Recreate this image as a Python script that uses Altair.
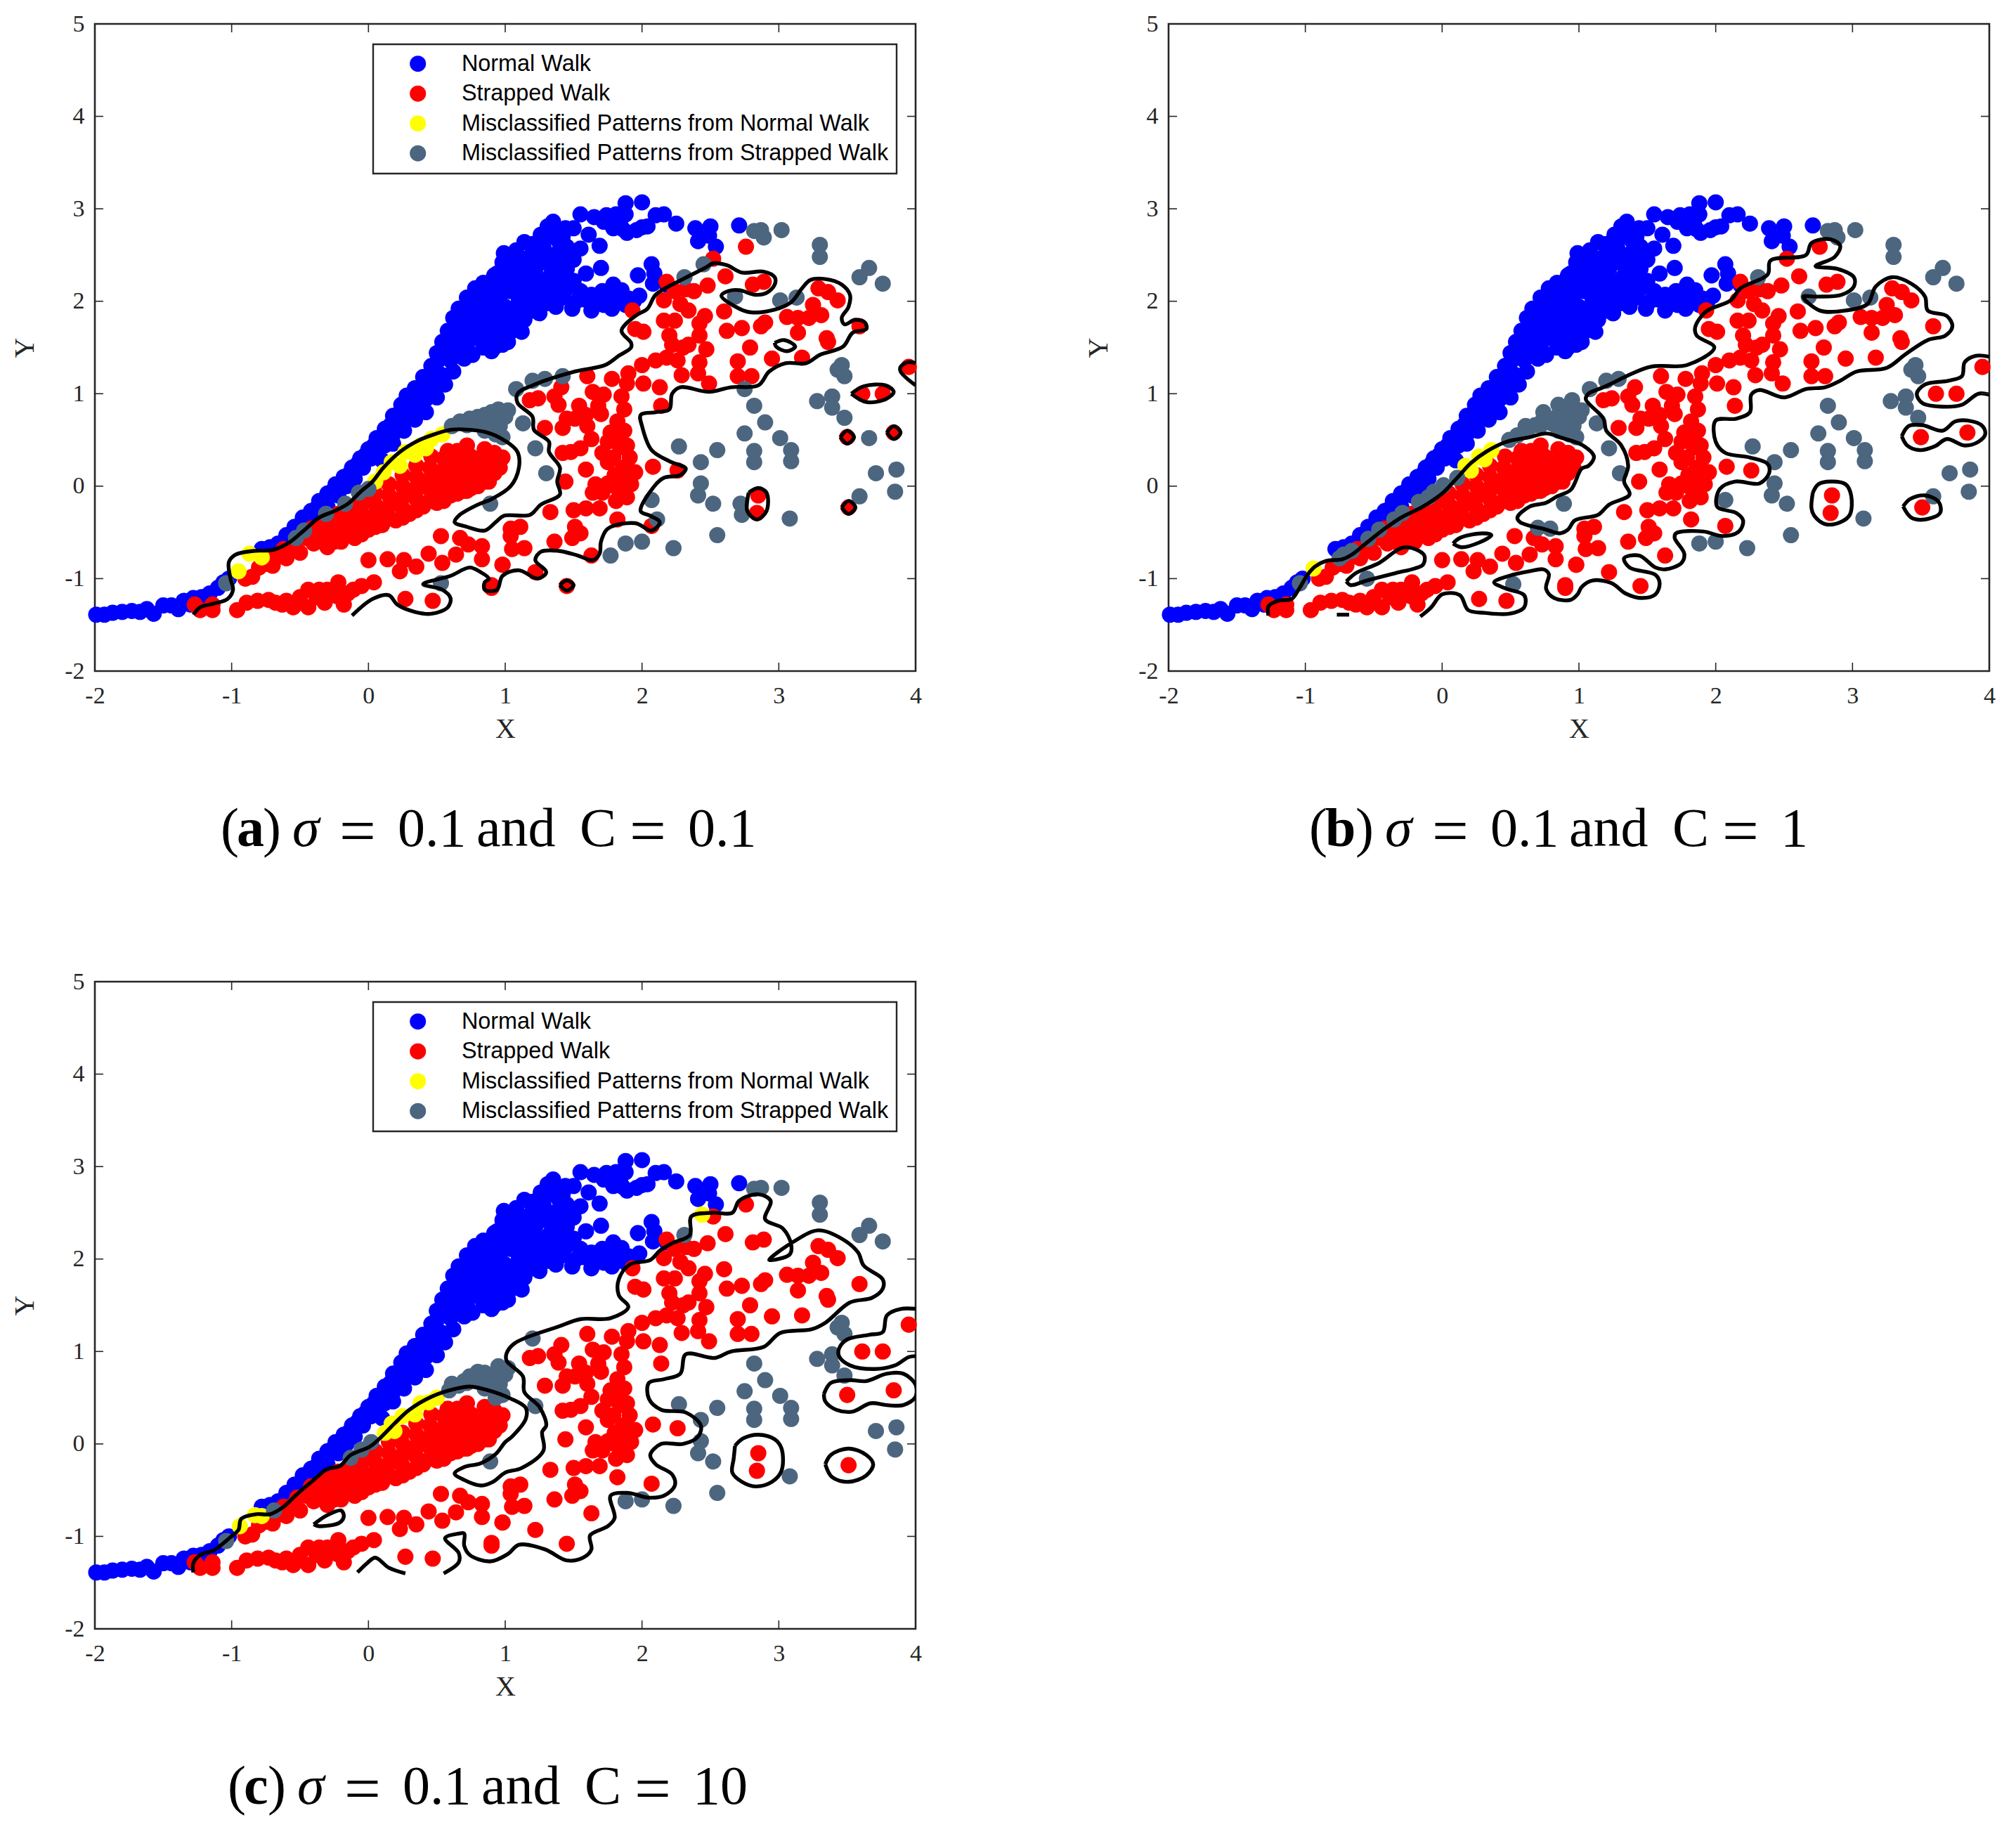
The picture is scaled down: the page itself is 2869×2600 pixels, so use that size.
import altair as alt
import pandas as pd

CLASSES = ["Normal Walk", "Strapped Walk", "Misclassified Patterns from Normal Walk", "Misclassified Patterns from Strapped Walk"]
COLORS = ["#0000ff", "#ff0000", "#ffff00", "#4d6680"]
X_TICKS = [-2, -1, 0, 1, 2, 3, 4]
Y_TICKS = [-2, -1, 0, 1, 2, 3, 4, 5]
W, H = 1168, 921

blue_tail = [(-1.99,-1.39),(-1.93,-1.39),(-1.87,-1.37),(-1.8,-1.36),(-1.73,-1.35),(-1.67,-1.36),(-1.62,-1.33),(-1.57,-1.38),(-1.5,-1.29),(-1.44,-1.29),(-1.39,-1.33),(-1.35,-1.24),(-1.28,-1.21),(-1.22,-1.2),(-1.16,-1.16),(-1.1,-1.1),(-1.06,-1.04),(-1.02,-1.0),(-1.3,-1.28),(-1.2,-1.28),(-.78,-.68),(-.72,-.66)]
blue_upper = [(-.66,-.62),(-.6,-.53),(-.54,-.44),(-.48,-.34),(-.42,-.27),(-.36,-.16),(-.3,-.08),(-.24,.02),(-.18,.1),(-.12,.2),(-.06,.3),(0,.4),(.06,.52),(.12,.62),(.18,.76),(.24,.88),(.28,.98),(.34,1.06),(.40,1.18),(.46,1.30),(.5,1.44),(.54,1.56),(.58,1.68),(.62,1.82),(.66,1.92),(.72,2.04),(.78,2.14),(.84,2.2),(.92,2.28),(.98,2.42)]
blue_center = [(-.44,-.4),(-.36,-.3),(-.3,-.22),(-.22,-.1),(-.16,0),(-.1,.08),(-.04,.2),(.02,.3),(.08,.42),(.14,.54),(.2,.66),(.26,.76),(.32,.88),(.38,1.0),(.44,1.1),(.5,1.24),(.56,1.4),(.62,1.5),(.68,1.62),(.74,1.76),(.8,1.9),(.86,2.02),(.92,2.12),(.98,2.2)]
blue_lower = [(.1,.28),(.18,.46),(.26,.6),(.34,.72),(.42,.8),(.5,.96),(.56,1.1),(.62,1.24),(.7,1.38),(.76,1.42),(.84,1.5),(.92,1.5),(.98,1.6),(.72,1.5),(.8,1.6),(.86,1.7),(.78,1.76),(.9,1.8),(.84,1.9),(.9,2.0),(.96,1.9),(.9,2.1),(.96,2.3),(.84,2.1)]
blue_fill_1 = [(-.5,-.46),(-.44,-.34),(-.38,-.24),(-.32,-.15),(-.26,-.05),(-.2,.03),(-.14,.13),(-.08,.24),(-.02,.34),(.04,.44),(.1,.54),(.16,.66),(.22,.78),(.28,.9),(.34,.98),(.4,1.08),(.46,1.2),(.5,1.34),(.54,1.46),(.6,1.62),(.66,1.76),(.7,1.86),(.76,1.98),(.82,2.1),(.88,2.2),(.94,2.3)]
blue_fill_2 = [(.06,.32),(.12,.44),(.18,.56),(.24,.68),(.3,.78),(.36,.86),(.42,.94),(.48,1.06),(.54,1.2),(.6,1.36),(.66,1.48),(.72,1.6),(.78,1.68),(.84,1.8),(.88,1.6),(.94,1.78),(.98,1.72),(.68,1.5)]
blue_fill_3 = [(1.0,1.82),(1.08,1.9),(1.06,1.76),(1.16,1.96),(1.26,2.0),(1.32,1.98),(1.42,2.04),(1.52,2.0),(1.58,2.02),(1.7,2.0),(1.72,1.96),(1.28,2.1),(1.14,2.16),(1.06,2.14),(.98,2.1),(1.02,2.22),(1.12,2.28),(1.2,2.22),(1.32,2.26),(1.5,2.22),(1.42,2.28),(1.08,2.38),(1.14,2.46),(1.04,2.46),(1.2,2.42),(1.32,2.4),(1.38,2.52),(1.28,2.58),(1.2,2.62),(1.08,2.55),(1.34,2.74),(1.24,2.64),(1.42,2.7),(1.46,2.48),(1.78,2.08),(1.85,2.12),(1.72,2.86),(1.84,2.84),(1.86,2.78),(2.0,2.8),(1.65,2.0),(1.75,2.02),(1.88,1.96),(1.94,2.0)]
blue_top = [(.9,1.46),(1.02,1.56),(1.12,1.67),(1.25,1.87),(1.37,1.94),(1.49,1.92),(1.63,1.90),(1.78,1.92),(1.85,2.01),(1.98,2.06),(1.90,2.03),(1.71,2.11),(1.79,2.18),(1.63,2.07),(1.55,2.11),(1.45,2.14),(1.35,2.11),(1.2,2.07),(1.1,2.01),(1.0,1.94),(.9,1.87),(1.02,1.73),(1.14,1.80),(.96,2.18),(1.06,2.28),(1.16,2.35),(.99,2.52),(1.14,2.64),(1.26,2.72),(1.35,2.86),(1.31,2.81),(1.44,2.79),(1.39,2.65),(1.5,2.79),(1.55,2.94),(1.65,2.91),(1.74,2.93),(1.81,2.94),(1.88,2.94),(1.88,3.06),(2.0,3.07),(1.89,2.74),(1.79,2.79),(1.96,2.77),(2.04,2.81),(2.1,2.93),(2.16,2.94),(2.25,2.84),(2.39,2.79),(2.5,2.81),(2.41,2.65),(2.49,2.71),(2.54,2.59),(2.71,2.82),(1.61,2.72),(1.69,2.6),(1.55,2.57),(1.5,2.45),(1.59,2.3),(1.7,2.36),(2.07,2.4),(1.97,2.28),(2.08,2.19),(2.18,2.18),(2.09,2.3),(1.1,2.45),(1.28,2.48),(1.22,2.35),(1.36,2.35),(1.45,2.35),(1.26,2.21),(1.39,2.21),(1.04,2.11),(1.2,1.9),(1.1,1.80),(.94,1.67),(1.04,1.67),(.98,1.53),(.9,1.6),(.96,2.0),(1.45,2.59),(1.3,2.69),(1.2,2.52),(1.02,2.35),(1.41,2.48)]
red_wedge_1 = [(-.9,-1.0),(-.8,-.88),(-.7,-.78),(-.62,-.68),(-.52,-.58),(-.42,-.46),(-.32,-.38),(-.22,-.3),(-.12,-.22),(-.02,-.14),(.05,-.08),(.15,.02),(.25,.12),(.35,.22),(.46,.32),(.58,.38),(.72,.44),(.85,.4),(.95,.3)]
red_wedge_2 = [(-.7,-.86),(-.6,-.78),(-.5,-.72),(-.4,-.62),(-.3,-.55),(-.2,-.47),(-.1,-.4),(0,-.34),(.1,-.25),(.2,-.17),(.3,-.08),(.4,0),(.5,.08),(.6,.15),(.7,.22),(.8,.25),(.9,.15)]
red_wedge_3 = [(-.3,-.66),(-.2,-.6),(-.1,-.56),(0,-.47),(.1,-.42),(.2,-.37),(.3,-.3),(.4,-.22),(.5,-.18),(.6,-.1),(.7,-.05),(.8,0),(.88,.05),(.72,-.05)]
red_wedge_4 = [(-.85,-.98),(-.75,-.84),(-.65,-.76),(-.55,-.66),(-.45,-.56),(-.35,-.46),(-.35,-.58),(-.25,-.36),(-.25,-.48),(-.25,-.6),(-.15,-.28),(-.15,-.4),(-.15,-.52),(-.05,-.2),(-.05,-.32),(-.05,-.44),(-.05,-.52),(.05,-.2),(.05,-.32),(.05,-.44),(.15,-.1),(.15,-.22),(.15,-.34),(.25,0),(.25,-.12),(.25,-.24),(.25,-.34),(.35,.1),(.35,-.02),(.35,-.14),(.35,-.26),(.45,.2),(.45,.08),(.45,-.04),(.45,-.16),(.55,.3),(.55,.18),(.55,.06),(.55,-.06),(.55,-.16),(.65,.38),(.65,.26),(.65,.14),(.65,.02),(.65,-.08),(.75,.32),(.75,.2),(.75,.08),(.75,-.02),(.85,.28),(.85,.16),(.85,.05),(.92,.36),(.92,.24),(.96,.2)]
red_strip = [(-1.27,-1.28),(-1.14,-1.34),(-1.14,-1.28),(-1.23,-1.34),(-.96,-1.34),(-.89,-1.26),(-.81,-1.24),(-.73,-1.23),(-.63,-1.28),(-.55,-1.31),(-.44,-1.31),(-.44,-1.12),(-.32,-1.26),(-.18,-1.28),(-.22,-1.04),(-.11,-1.12),(.04,-1.04),(0,-.8),(.14,-.79),(.23,-.92),(.26,-.8),(.35,-.87),(.44,-.73),(.54,-.83),(.64,-.74),(.53,-.54),(.67,-.56),(.73,-.63),(.83,-.65),(.83,-.79),(.98,-.85),(.9,-1.07),(.27,-1.22),(.47,-1.24),(-.36,-1.12),(-.23,-1.19),(-.5,-1.2),(-.38,-1.2),(-.3,-1.12),(-.15,-1.16),(-.05,-1.08),(-.68,-1.26),(-.6,-1.24)]
red_mid = [(1.18,.93),(1.24,.95),(1.39,.88),(1.41,1.07),(1.36,.97),(1.29,.63),(1.42,.63),(1.45,.73),(1.54,.87),(1.6,1.19),(1.64,1.02),(1.72,.99),(1.68,.87),(1.78,1.16),(1.85,.97),(1.87,.83),(1.7,.78),(1.59,.77),(1.51,.73),(1.6,.65),(1.63,.51),(1.55,.41),(1.48,.37),(1.42,.36),(1.59,.18),(1.44,.05),(1.71,.36),(1.77,.58),(1.87,.6),(1.75,.48),(1.89,.44),(1.91,.31),(1.75,.26),(1.86,.2),(1.95,.15),(1.79,.31),(2.08,.21),(2.26,.17),(1.92,.02),(1.66,.02),(1.75,.03),(1.64,-.07),(1.71,-.07),(1.83,-.03),(1.89,-.12),(1.81,-.16),(1.69,-.24),(1.59,-.24),(1.5,-.26),(1.51,-.44),(1.55,-.51),(1.49,-.56),(1.33,-.28),(1.82,-.36),(2.07,-.43),(1.36,-.6),(1.04,-.46),(1.11,-.44),(1.04,-.54),(1.05,-.68),(1.14,-.67),(.98,-.85),(1.22,-.93),(1.63,-.75),(1.45,-1.08),(.9,-1.1),(.9,.31),(.98,.31),(.92,.14),(1.84,.1),(1.9,.1),(1.84,.42),(1.82,.56),(1.82,.7),(1.88,.2),(1.8,.12),(1.8,0)]
red_upper = [(2.14,.87),(2.49,1.11),(2.13,1.07),(2.01,1.11),(1.9,1.22),(1.89,1.11),(2.0,1.31),(2.1,1.36),(2.18,1.39),(2.26,1.36),(2.29,1.2),(2.41,1.22),(2.42,1.34),(2.3,1.5),(2.22,1.53),(2.2,1.63),(2.42,1.63),(2.47,1.48),(2.34,1.53),(2.01,1.67),(1.95,1.7),(1.93,1.9),(2.16,1.79),(2.24,1.79),(2.18,2.21),(2.16,2.01),(2.24,2.11),(2.32,2.13),(2.38,2.11),(2.48,2.17),(2.61,2.27),(2.52,2.46),(2.76,2.59),(2.81,2.18),(2.89,2.21),(2.28,1.97),(2.34,1.9),(2.46,1.84),(2.42,1.76),(2.6,1.89),(2.62,1.68),(2.73,1.71),(2.87,1.73),(2.9,1.77),(2.79,1.5),(2.7,1.35),(2.7,1.19),(2.8,1.19),(2.95,1.38),(3.17,1.39),(3.14,1.66),(3.06,1.83),(3.14,1.82),(3.22,1.82),(3.31,1.85),(3.25,1.96),(3.29,2.14),(3.36,2.1),(3.43,2.01),(3.35,1.6),(3.36,1.56),(3.59,1.73),(3.61,1.0),(3.76,1.0),(3.95,1.29),(3.5,.53),(3.84,.58),(2.85,-.1),(2.84,-.29),(3.51,-.23)]
gray_common = [(2.82,.87),(2.90,.69),(2.75,.57),(2.82,.38),(2.82,.26),(3.01,.52),(3.09,.39),(3.09,.27),(2.27,.43),(2.55,.39),(2.43,.26),(2.43,.03),(2.41,-.10),(2.52,-.19),(3.08,-.35),(2.55,-.53),(2.23,-.67),(2.0,-.60),(1.88,-.62),(1.22,.41),(2.82,2.76),(2.87,2.77),(3.02,2.77),(3.30,2.61),(3.30,2.48),(3.66,2.36),(3.59,2.26),(3.76,2.19),(2.31,2.26),(3.46,1.31),(3.43,1.26),(3.48,1.19),(3.28,.92),(3.39,.97),(3.39,.85),(3.48,.74),(3.71,.14),(3.86,.18),(3.85,-.06),(1.02,.82),(.96,.78),(.92,.75),(.98,.53),(.89,-.19),(.61,.65),(.74,.73),(.85,.77),(.95,.83),(.93,.56),(-1.04,-1.05),(.72,.66),(.8,.68),(.88,.7),(.95,.74),(1.0,.75),(.9,.62),(.85,.6),(.96,.65)]
gray_a = [(2.75,1.05),(2.72,-.19),(2.73,-.31),(1.77,-.75),(2.11,-.36),(2.07,-.15),(1.3,.14),(1.13,.68),(3.66,.52),(3.59,-.11),(2.45,2.40),(2.68,2.05),(3.01,2.01),(3.13,2.04),(1.08,1.05),(1.2,1.14),(1.29,1.16),(1.42,1.19),(2.89,2.69),(.53,-1.05),(0,-.03),(-.07,-.07),(-.17,-.19),(-.31,-.30),(-.47,-.48),(-.53,-.56),(.67,.7),(.8,.75),(.9,.8)]
gray_b = [(2.07,-.15),(1.3,.14),(1.13,.68),(3.59,-.11),(2.68,2.05),(3.01,2.01),(3.13,2.04),(1.08,1.05),(1.2,1.14),(1.29,1.16),(2.89,2.69),(.52,-1.06),(-.55,-1.0),(.7,-.45),(.79,-.46),(.11,.09),(.01,.01),(-.06,-.06),(-.17,-.17),(-.1,-.12),(-.29,-.29),(-.35,-.36),(-.46,-.47),(-.54,-.57),(-.72,-.74),(-.75,-.78),(-.66,-.7),(.49,.5),(.55,.55),(.62,.6),(.68,.66),(.74,.8),(.85,.88),(.95,.93)]
gray_c = [(1.2,1.14),(.02,.02),(-.05,-.06),(-.13,-.15),(-.69,-.72),(.59,.58),(.66,.63),(.7,.68),(.8,.78),(.82,.7),(.95,.84),(.93,.5)]
yellow_a = [(-.87,-.73),(-.78,-.77),(-.95,-.92),(.05,.05),(.11,.15),(.17,.26),(.27,.37),(.38,.44),(.54,.56),(.46,.51),(.34,.34),(.23,.22),(.42,.41)]
yellow_b = [(-.94,-.89),(.36,.39),(.27,.32),(.17,.22),(.21,.17),(.31,.29)]
yellow_c = [(-.94,-.89),(-.83,-.77),(-.78,-.78),(.12,.12),(.17,.22),(.25,.3),(.38,.44),(.5,.5),(.34,.32),(.19,.14),(.44,.45),(2.44,2.48)]

contours_a = [
 [(-1.28,-1.39),(-1.23,-1.31),(-1.13,-1.27),(-1.03,-1.22),(-.99,-1.12),(-1.01,-.99),(-1.02,-.82),(-.97,-.74),(-.84,-.70),(-.70,-.69),(-.58,-.61),(-.48,-.49),(-.36,-.34),(-.25,-.27),(-.15,-.19),(-.05,-.05),(.03,.05),(.11,.2),(.23,.37),(.36,.49),(.48,.56),(.6,.61),(.74,.61),(.87,.58),(1.0,.49),(1.09,.37),(1.10,.2),(1.04,0),(.9,-.14),(.8,-.2),(.66,-.32),(.63,-.39),(.72,-.44),(.85,-.48),(.93,-.39),(.99,-.32),(1.18,-.31),(1.26,-.2),(1.4,-.09),(1.38,.05),(1.4,.2),(1.32,.37),(1.32,.48),(1.21,.61),(1.2,.75),(1.09,.9),(1.09,1.0),(1.2,1.09),(1.51,1.24),(1.73,1.31),(1.83,1.41),(1.92,1.5),(1.92,1.55),(1.85,1.68),(1.95,1.84),(2.04,1.92),(2.1,2.07),(2.3,2.24),(2.46,2.36),(2.52,2.41),(2.62,2.39),(2.73,2.31),(2.89,2.32),(2.97,2.26),(2.97,2.18),(2.91,2.09),(2.83,2.07),(2.71,2.12),(2.63,2.11),(2.58,2.06),(2.71,1.92),(2.8,1.88),(2.97,1.91),(3.09,1.99),(3.17,2.14),(3.23,2.23),(3.34,2.24),(3.46,2.18),(3.52,2.07),(3.51,1.94),(3.46,1.82),(3.48,1.75),(3.56,1.8),(3.63,1.77),(3.64,1.7),(3.54,1.66),(3.47,1.51),(3.30,1.42),(3.2,1.33),(3.05,1.33),(2.93,1.24),(2.85,1.09),(2.65,1.07),(2.49,1.02),(2.28,1.07),(2.22,1.0),(2.2,.83),(2.1,.8),(1.99,.77),(2.0,.65),(2.07,.39),(2.2,.27),(2.32,.19),(2.28,.12),(2.16,.09),(2.09,0),(1.99,-.27),(2.06,-.32),(2.13,-.39),(2.07,-.48),(1.95,-.4),(1.75,-.46),(1.7,-.6),(1.69,-.73),(1.64,-.8),(1.53,-.75),(1.39,-.7),(1.26,-.71),(1.22,-.8),(1.3,-.93),(1.24,-1.0),(1.1,-.91),(.98,-.97),(.94,-1.12),(.85,-1.12),(.85,-1.04),(.88,-1.0),(.82,-.93),(.74,-.88),(.6,-.97),(.4,-1.06),(.54,-1.12),(.6,-1.21),(.58,-1.31),(.46,-1.38),(.34,-1.36),(.21,-1.28),(.15,-1.18),(.03,-1.22),(-.12,-1.4)],
 [(2.97,1.55),(3.04,1.58),(3.12,1.51),(3.06,1.46),(2.98,1.51),(2.97,1.55)],
 [(3.53,1.0),(3.62,1.08),(3.78,1.09),(3.84,1.02),(3.78,.94),(3.64,.91),(3.53,1.0)],
 [(4.0,1.33),(3.94,1.34),(3.89,1.29),(3.89,1.24),(4.0,1.09)],
 [(3.45,.53),(3.5,.6),(3.55,.53),(3.5,.46),(3.45,.53)],
 [(3.79,.58),(3.84,.65),(3.89,.58),(3.84,.51),(3.79,.58)],
 [(3.46,-.23),(3.51,-.16),(3.56,-.23),(3.51,-.3),(3.46,-.23)],
 [(1.4,-1.07),(1.45,-1.02),(1.5,-1.07),(1.45,-1.13),(1.4,-1.07)],
 [(2.78,-.07),(2.85,-.02),(2.91,-.07),(2.91,-.27),(2.84,-.36),(2.77,-.27),(2.78,-.07)],
]
contours_b = [
 [(-1.27,-1.40),(-1.27,-1.30),(-1.20,-1.24),(-1.10,-1.22),(-1.05,-1.12),(-.98,-.95),(-.93,-.87),(-.85,-.81),(-.73,-.79),(-.66,-.74),(-.55,-.61),(-.42,-.46),(-.30,-.34),(-.14,-.22),(0,-.08),(.11,.09),(.21,.25),(.33,.38),(.47,.48),(.64,.53),(.76,.57),(.88,.52),(1.03,.44),(1.11,.32),(1.07,.22),(1.02,.19),(.94,-.04),(.84,-.11),(.76,-.18),(.64,-.22),(.55,-.34),(.57,-.39),(.76,-.47),(.86,-.51),(.92,-.47),(.97,-.37),(1.14,-.31),(1.22,-.2),(1.37,-.09),(1.33,.05),(1.36,.22),(1.31,.44),(1.2,.6),(1.18,.73),(1.05,.94),(1.07,1.0),(1.18,1.07),(1.52,1.29),(1.79,1.31),(1.99,1.5),(1.86,1.63),(1.85,1.72),(1.93,1.89),(2.11,2.01),(2.18,2.14),(2.38,2.29),(2.4,2.44),(2.66,2.5),(2.7,2.63),(2.84,2.67),(2.91,2.6),(2.87,2.48),(2.73,2.38),(2.89,2.35),(3.01,2.26),(3.01,2.16),(2.92,2.07),(2.74,2.05),(2.64,2.05),(2.76,1.9),(2.95,1.9),(3.11,1.97),(3.17,2.16),(3.29,2.26),(3.43,2.19),(3.53,2.05),(3.55,1.9),(3.69,1.84),(3.73,1.73),(3.68,1.63),(3.55,1.58),(3.39,1.43),(3.25,1.28),(3.03,1.24),(2.91,1.14),(2.8,1.07),(2.66,1.05),(2.5,.96),(2.32,1.04),(2.26,.99),(2.25,.8),(2.15,.73),(2.0,.71),(2.0,.48),(2.07,.36),(2.25,.31),(2.38,.24),(2.39,.14),(2.32,.03),(2.14,.05),(2.03,-.03),(2.01,-.22),(2.15,-.29),(2.2,-.37),(2.17,-.49),(2.05,-.54),(1.91,-.49),(1.71,-.51),(1.7,-.56),(1.77,-.73),(1.75,-.83),(1.63,-.9),(1.56,-.88),(1.44,-.75),(1.33,-.78),(1.37,-.88),(1.56,-.96),(1.59,-1.05),(1.56,-1.17),(1.46,-1.21),(1.34,-1.16),(1.24,-1.05),(1.1,-1.02),(1.02,-1.09),(.99,-1.17),(.94,-1.23),(.82,-1.21),(.76,-1.11),(.78,-.95),(.74,-.9),(.64,-.92),(.49,-.97),(.38,-1.04),(.47,-1.11),(.6,-1.18),(.6,-1.31),(.49,-1.38),(.31,-1.37),(.19,-1.34),(.13,-1.18),(0,-1.17),(-.08,-1.31),(-.16,-1.41)],
 [(-.77,-1.39),(-.68,-1.39)],
 [(.08,-.62),(.13,-.56),(.3,-.51),(.36,-.53),(.27,-.61),(.14,-.66),(.08,-.62)],
 [(-.70,-1.03),(-.63,-.94),(-.46,-.83),(-.30,-.67),(-.22,-.67),(-.13,-.75),(-.14,-.85),(-.20,-.89),(-.34,-.94),(-.55,-1.02),(-.67,-1.07),(-.70,-1.03)],
 [(4.0,1.40),(3.9,1.41),(3.82,1.34),(3.8,1.19),(3.7,1.14),(3.53,1.10),(3.47,1.0),(3.51,.9),(3.66,.86),(3.8,.88),(3.92,1.0),(4.0,.99)],
 [(3.36,.54),(3.41,.65),(3.51,.66),(3.66,.6),(3.75,.7),(3.84,.71),(3.95,.65),(3.97,.56),(3.92,.48),(3.82,.44),(3.69,.51),(3.6,.43),(3.49,.39),(3.4,.44),(3.36,.54)],
 [(2.71,-.07),(2.75,.02),(2.84,.05),(2.95,.02),(2.99,-.1),(2.98,-.31),(2.91,-.39),(2.8,-.41),(2.72,-.32),(2.7,-.24),(2.71,-.07)],
 [(3.37,-.22),(3.42,-.14),(3.53,-.1),(3.63,-.17),(3.64,-.29),(3.53,-.36),(3.43,-.34),(3.37,-.22)],
]
contours_c = [
 [(-1.28,-1.39),(-1.28,-1.29),(-1.23,-1.2),(-1.13,-1.15),(-1.01,-1.01),(-.95,-.93),(-.93,-.81),(-.82,-.76),(-.72,-.76),(-.63,-.69),(-.52,-.54),(-.4,-.39),(-.3,-.27),(-.21,-.24),(-.13,-.12),(.01,-.03),(.09,.07),(.19,.22),(.3,.37),(.46,.51),(.62,.59),(.74,.62),(.85,.59),(1.04,.49),(1.15,.39),(1.15,.27),(1.05,.08),(1.0,.02),(.93,-.11),(.82,-.21),(.7,-.25),(.63,-.32),(.7,-.39),(.82,-.45),(.91,-.41),(1.0,-.31),(1.12,-.26),(1.28,-.07),(1.27,.13),(1.3,.2),(1.25,.4),(1.14,.56),(1.13,.73),(1.01,.9),(1.01,.98),(1.07,1.09),(1.39,1.27),(1.55,1.35),(1.77,1.36),(1.9,1.48),(1.83,1.61),(1.83,1.78),(1.91,1.94),(2.06,1.99),(2.13,2.09),(2.22,2.17),(2.35,2.26),(2.36,2.46),(2.52,2.5),(2.66,2.5),(2.71,2.63),(2.85,2.7),(2.94,2.63),(2.9,2.43),(3.03,2.33),(3.09,2.16),(3.08,2.05),(2.93,1.99),(3.11,2.19),(3.29,2.31),(3.46,2.22),(3.58,2.07),(3.62,1.93),(3.76,1.78),(3.76,1.68),(3.68,1.58),(3.52,1.53),(3.34,1.31),(3.24,1.24),(3.01,1.2),(2.89,1.05),(2.65,1.0),(2.53,.93),(2.32,.97),(2.28,.76),(2.16,.7),(2.05,.66),(2.05,.49),(2.14,.37),(2.32,.34),(2.43,.2),(2.41,.08),(2.3,0),(2.14,0),(2.06,-.12),(2.1,-.22),(2.22,-.33),(2.24,-.45),(2.16,-.56),(2.04,-.58),(1.9,-.53),(1.77,-.56),(1.8,-.8),(1.75,-.89),(1.62,-.99),(1.63,-1.14),(1.57,-1.23),(1.45,-1.26),(1.29,-1.14),(1.1,-1.09),(1.02,-1.19),(.89,-1.27),(.74,-1.2),(.7,-1.1),(.7,-.97),(.66,-.97),(.56,-1.02),(.66,-1.18),(.66,-1.28),(.55,-1.4)],
 [(-.08,-1.39),(-.01,-1.29),(.05,-1.23),(.15,-1.34),(.27,-1.4)],
 [(-.4,-.87),(-.3,-.77),(-.2,-.72),(-.18,-.78),(-.21,-.85),(-.36,-.89),(-.4,-.87)],
 [(4.01,1.46),(3.89,1.46),(3.79,1.39),(3.76,1.21),(3.66,1.18),(3.5,1.13),(3.44,1.03),(3.44,.95),(3.52,.85),(3.7,.81),(3.85,.85),(3.95,.94),(4.0,.95)],
 [(3.33,.54),(3.38,.66),(3.52,.69),(3.64,.68),(3.79,.76),(3.91,.76),(4.0,.64),(4.0,.51),(3.91,.42),(3.79,.42),(3.67,.44),(3.54,.35),(3.42,.37),(3.34,.46),(3.33,.54)],
 [(2.68,-.02),(2.74,.06),(2.85,.1),(2.97,.05),(3.02,-.05),(3.02,-.29),(2.95,-.41),(2.83,-.46),(2.73,-.41),(2.66,-.31),(2.67,-.16),(2.68,-.02)],
 [(3.34,-.22),(3.38,-.12),(3.51,-.05),(3.64,-.12),(3.69,-.22),(3.64,-.34),(3.51,-.41),(3.39,-.36),(3.34,-.22)],
]
captions = {
 "a": [("(", 179, "normal", "normal"), ("a", 202, "bold", "normal"), (")", 239, "normal", "normal"), ("σ", 281, "normal", "italic"), ("=", 348, "normal", "normal"), ("0.1", 431, "normal", "normal"), ("and", 543, "normal", "normal"), ("C", 690, "normal", "normal"), ("=", 761, "normal", "normal"), ("0.1", 844, "normal", "normal")],
 "b": [("(", 200, "normal", "normal"), ("b", 223, "bold", "normal"), (")", 266, "normal", "normal"), ("σ", 308, "normal", "italic"), ("=", 375, "normal", "normal"), ("0.1", 458, "normal", "normal"), ("and", 570, "normal", "normal"), ("C", 717, "normal", "normal"), ("=", 788, "normal", "normal"), ("1", 871, "normal", "normal")],
 "c": [("(", 189, "normal", "normal"), ("c", 212, "bold", "normal"), (")", 246, "normal", "normal"), ("σ", 288, "normal", "italic"), ("=", 355, "normal", "normal"), ("0.1", 438, "normal", "normal"), ("and", 550, "normal", "normal"), ("C", 697, "normal", "normal"), ("=", 768, "normal", "normal"), ("10", 851, "normal", "normal")],
}

blue = blue_tail + blue_upper + blue_center + blue_lower + blue_fill_1 + blue_fill_2 + blue_fill_3 + blue_top
red = red_wedge_1 + red_wedge_2 + red_wedge_3 + red_wedge_4 + red_strip + red_mid + red_upper

x_scale = alt.Scale(domain=[-2, 4], nice=False)
y_scale = alt.Scale(domain=[-2, 5], nice=False)
AXIS_FONT = "Liberation Serif"
x_axis = alt.Axis(values=X_TICKS, title="X", grid=False, domain=False, ticks=False, labelFont=AXIS_FONT, labelFontSize=34, labelColor="#262626", labelPadding=18, labelExpr="'' + datum.value", titleFont=AXIS_FONT, titleFontSize=40, titleFontWeight="normal", titleColor="#262626", titlePadding=10, labelFlush=False)
y_axis = alt.Axis(values=Y_TICKS, title="Y", grid=False, domain=False, ticks=False, labelFont=AXIS_FONT, labelFontSize=34, labelColor="#262626", labelPadding=15, labelExpr="'' + datum.value", titleFont=AXIS_FONT, titleFontSize=40, titleFontWeight="normal", titleColor="#262626", titlePadding=36)


def panel(gray_extra, yellow, contours, caption):
    rows = []
    for cls, rank, pts in [(CLASSES[0], 0, blue), (CLASSES[1], 1, red), (CLASSES[2], 2, yellow), (CLASSES[3], 3, gray_common + gray_extra)]:
        for px, py in pts:
            rows.append({"x": px, "y": py, "cls": cls, "rank": rank})
    pts_df = pd.DataFrame(rows)
    line_rows = []
    for s, seg in enumerate(contours):
        for i, (px, py) in enumerate(seg):
            line_rows.append({"x": px, "y": py, "seg": s, "i": i})
    line_df = pd.DataFrame(line_rows)
    points = alt.Chart(pts_df).mark_circle(size=530, opacity=1).encode(
        x=alt.X("x:Q", scale=x_scale, axis=x_axis),
        y=alt.Y("y:Q", scale=y_scale, axis=y_axis),
        color=alt.Color("cls:N", scale=alt.Scale(domain=CLASSES, range=COLORS), sort=CLASSES,
                        legend=alt.Legend(title=None, orient="none", legendX=396, legendY=29,
                                          symbolType="circle", symbolSize=530, symbolOffset=36,
                                          labelFont="Liberation Sans", labelFontSize=32.4, labelColor="black",
                                          labelLimit=900, labelOffset=46, rowPadding=9.5, padding=11.5,
                                          fillColor="white", strokeColor="#262626")),
        order=alt.Order("rank:Q"),
    )
    lines = alt.Chart(line_df).mark_line(color="black", strokeWidth=5.4, interpolate="catmull-rom", clip=True).encode(
        x=alt.X("x:Q", scale=x_scale), y=alt.Y("y:Q", scale=y_scale), detail="seg:N", order="i:Q")
    xt = pd.DataFrame({"t": X_TICKS})
    yt = pd.DataFrame({"t": Y_TICKS})
    tick = dict(color="#262626", strokeWidth=1.6)
    xb = alt.Chart(xt).mark_rule(**tick).encode(x=alt.X("t:Q", scale=x_scale), y=alt.value(H), y2=alt.value(H - 12))
    xtp = alt.Chart(xt).mark_rule(**tick).encode(x=alt.X("t:Q", scale=x_scale), y=alt.value(0), y2=alt.value(12))
    yl = alt.Chart(yt).mark_rule(**tick).encode(y=alt.Y("t:Q", scale=y_scale), x=alt.value(0), x2=alt.value(12))
    yr = alt.Chart(yt).mark_rule(**tick).encode(y=alt.Y("t:Q", scale=y_scale), x=alt.value(W), x2=alt.value(W - 12))
    caps = []
    for text, px, weight, style in caption:
        d = pd.DataFrame({"label": [text]})
        is_eq = text == "="
        caps.append(alt.Chart(d).mark_text(align="left", baseline="alphabetic", font="Liberation Serif", fontSize=92 if is_eq else 78, fontWeight=weight, fontStyle=style, color="black").encode(
            text="label:N", x=alt.value(px), y=alt.value(H + (258 if is_eq else 249))))
    return alt.layer(points, lines, xb, xtp, yl, yr, *caps).properties(width=W, height=H)


a = panel(gray_a, yellow_a, contours_a, captions["a"])
b = panel(gray_b, yellow_b, contours_b, captions["b"])
c = panel(gray_c, yellow_c, contours_c, captions["c"])

chart = alt.vconcat(alt.hconcat(a, b, spacing=229), c, spacing=145).resolve_scale(color="independent").configure_view(
    stroke="#262626", strokeWidth=2.6).configure_legend(strokeWidth=2.4).properties(background="white", padding={"left": 6, "top": 7, "right": 10, "bottom": 2})
chart.save("out.html", embed_options={"renderer": "svg", "actions": False})
